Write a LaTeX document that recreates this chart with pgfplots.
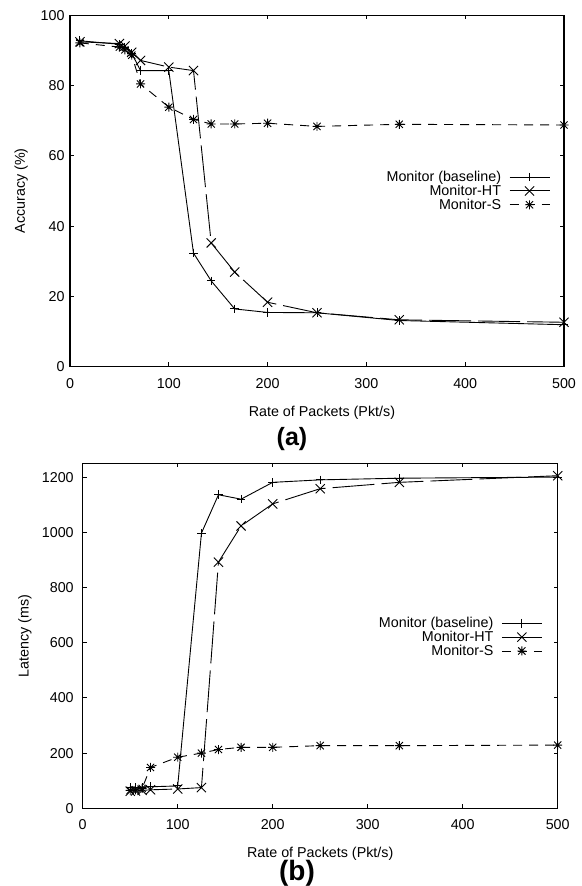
\documentclass[border=0pt]{standalone}
\usepackage{fontspec}
\setmainfont{Liberation Sans}
\usepackage{pgfplots}
\pgfplotsset{compat=1.18}

\pgfdeclareplotmark{gpstar}{%
 \pgfpathmoveto{\pgfqpoint{-\pgfplotmarksize}{0pt}}\pgfpathlineto{\pgfqpoint{\pgfplotmarksize}{0pt}}%
 \pgfpathmoveto{\pgfqpoint{0pt}{-\pgfplotmarksize}}\pgfpathlineto{\pgfqpoint{0pt}{\pgfplotmarksize}}%
 \pgfpathmoveto{\pgfqpoint{-0.8\pgfplotmarksize}{-0.8\pgfplotmarksize}}\pgfpathlineto{\pgfqpoint{0.8\pgfplotmarksize}{0.8\pgfplotmarksize}}%
 \pgfpathmoveto{\pgfqpoint{-0.8\pgfplotmarksize}{0.8\pgfplotmarksize}}\pgfpathlineto{\pgfqpoint{0.8\pgfplotmarksize}{-0.8\pgfplotmarksize}}%
 \pgfusepathqstroke}

\newcommand{\fs}{\fontsize{14.3}{16}\selectfont}

\pgfplotsset{
  gpstyle/.style={
    scale only axis,
    anchor=south west,
    xmin=0, xmax=500,
    xtick={0,100,...,500},
    tick align=inside,
    major tick length=4pt,
    axis line style={line width=1.1pt},
    every tick/.style={black, line width=0.8pt},
    /pgf/number format/assume math mode=true,
    /pgf/number format/1000 sep={},
    tick label style={font=\fs},
    label style={font=\fs},
    xticklabel style={yshift=-8pt},
    yticklabel style={xshift=-2pt},
    legend plot pos=right,
    legend cell align=right,
    legend style={draw=none, fill=none, font=\fs, inner sep=0pt,
      nodes={inner sep=1pt}, row sep=0pt, anchor=north east,
      /tikz/every odd column/.append style={column sep=7pt}},
    legend image code/.code={\draw[mark repeat=2,mark phase=2,#1] plot coordinates {(0pt,0pt) (20pt,0pt) (40pt,0pt)};},
  },
  sbase/.style={black, line width=0.9pt, mark=+, mark size=4.3pt, mark options={solid}},
  sht/.style={black, line width=0.9pt, dash pattern=on 42pt off 7pt, mark=x, mark size=6.5pt, mark options={solid}},
  ss/.style={black, line width=0.9pt, dash pattern=on 9pt off 7pt, mark=gpstar, mark size=4.5pt, mark options={solid}},
}

\begin{document}
\begin{tikzpicture}
\useasboundingbox (0,0) rectangle (581pt,886pt);

\begin{axis}[gpstyle,
  at={(70pt,519.5pt)}, width=494pt, height=351pt,
  ymin=0, ymax=100, ytick={0,20,...,100},
  xlabel={Rate of Packets (Pkt/s)},
  ylabel={Accuracy (\%)},
  xlabel style={at={(axis description cs:0.51,-0.113)}, anchor=north, inner sep=0pt},
  ylabel style={at={(axis description cs:-0.085,0.5)}, anchor=south, inner sep=0pt},
  legend style={at={(0.972,0.56)}},
]
\addplot[sbase] coordinates {(10,92.8) (50,91.8) (55.6,91) (62.5,89.2) (71.4,84.3) (100,84.3) (125,32.3) (142.9,24.4) (166.7,16.4) (200,15.4) (250,15.3) (333.3,13.1) (500,11.9)};
\addlegendentry{Monitor (baseline)}
\addplot[sht] coordinates {(10,92.5) (50,92) (55.6,91.3) (62.5,89.5) (71.4,87.2) (100,85.3) (125,84.3) (142.9,35.2) (166.7,26.9) (200,18.3) (250,15.3) (333.3,13.3) (500,12.6)};
\addlegendentry{Monitor-HT}
\addplot[ss] coordinates {(10,92.2) (50,91) (55.6,90.2) (62.5,88.7) (71.4,80.5) (100,73.9) (125,70.4) (142.9,69.1) (166.7,69.1) (200,69.3) (250,68.4) (333.3,69) (500,68.8)};
\addlegendentry{Monitor-S}
\end{axis}

\node[font=\fontsize{25}{28}\selectfont\bfseries, anchor=north, inner sep=0pt] at (292pt,459pt) {(a)};

\begin{axis}[gpstyle,
  at={(82.7pt,77.7pt)}, width=475pt, height=345pt,
  ymin=0, ymax=1250, ytick={0,200,...,1200},
  yticklabel style={xshift=-3.5pt},
  xlabel={Rate of Packets (Pkt/s)},
  ylabel={Latency (ms)},
  xlabel style={at={(axis description cs:0.5,-0.112)}, anchor=north, inner sep=0pt},
  ylabel style={at={(axis description cs:-0.107,0.5)}, anchor=south, inner sep=0pt},
  legend style={at={(0.968,0.557)}},
]
\addplot[sbase] coordinates {(50,75) (55.6,75) (62.5,76) (71.4,78) (100,81) (125,997) (142.9,1136) (166.7,1120) (200,1181) (250,1190) (333.3,1196) (500,1200)};
\addlegendentry{Monitor (baseline)}
\addplot[sht] coordinates {(50,62) (55.6,63) (62.5,65) (71.4,67) (100,70) (125,75) (142.9,892) (166.7,1023) (200,1103) (250,1158) (333.3,1181) (500,1205)};
\addlegendentry{Monitor-HT}
\addplot[ss] coordinates {(50,65) (55.6,67) (62.5,72) (71.4,148) (100,185) (125,200) (142.9,213) (166.7,221) (200,221) (250,227) (333.3,227) (500,229)};
\addlegendentry{Monitor-S}
\end{axis}

\node[font=\fontsize{28}{31}\selectfont\bfseries, anchor=north, inner sep=0pt] at (297pt,26pt) {(b)};
\end{tikzpicture}
\end{document}
